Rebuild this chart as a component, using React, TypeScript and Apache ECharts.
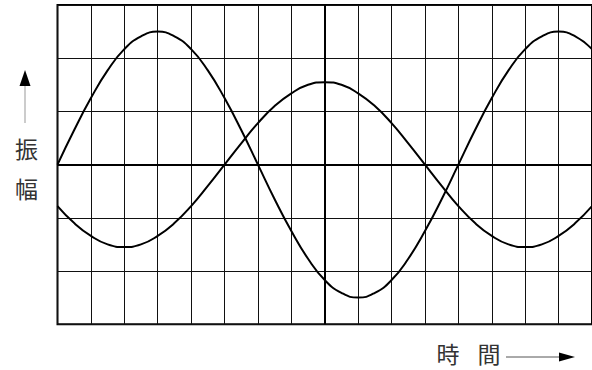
import React, { useEffect, useRef } from "react";
import * as echarts from "echarts";

const xs = [0, 0.5, 1, 1.5, 2, 2.5, 3, 3.5, 4, 4.5, 5, 5.5, 6, 6.5, 7, 7.5, 8, 8.5, 9, 9.5, 10, 10.5, 11, 11.5, 12, 12.5, 13, 13.5, 14, 14.5, 15, 15.5, 16];
const waveA = [0, 0.65, 1.25, 1.77, 2.17, 2.41, 2.5, 2.41, 2.17, 1.77, 1.25, 0.65, 0, -0.65, -1.25, -1.77, -2.17, -2.41, -2.5, -2.41, -2.17, -1.77, -1.25, -0.65, 0, 0.65, 1.25, 1.77, 2.17, 2.41, 2.5, 2.41, 2.17];
const waveB = [-0.78, -1.1, -1.34, -1.5, -1.55, -1.5, -1.34, -1.1, -0.78, -0.4, 0, 0.4, 0.78, 1.1, 1.34, 1.5, 1.55, 1.5, 1.34, 1.1, 0.78, 0.4, 0, -0.4, -0.78, -1.1, -1.34, -1.5, -1.55, -1.5, -1.34, -1.1, -0.78];
const yLabel = ["振", "幅"];
const xLabel = ["時", "間"];

const FONT = '"Noto Sans CJK JP", "Noto Sans CJK SC", sans-serif';

export default function App() {
  const ref = useRef<HTMLDivElement>(null);
  useEffect(() => {
    if (!ref.current) return;
    const chart = echarts.init(ref.current, undefined, { renderer: "svg" });
    const lineStyle = { color: "#000", width: 2 };
    const txt = (s: string, x: number, y: number) => ({
      type: "text",
      x,
      y,
      style: {
        text: s,
        font: `23px ${FONT}`,
        lineHeight: 23,
        fill: "#333",
        align: "center",
        verticalAlign: "middle",
      },
    });
    chart.setOption({
      animation: false,
      backgroundColor: "#fff",
      grid: {
        left: 57.5,
        top: 5,
        width: 538.4,
        height: 319.2,
        show: true,
        borderColor: "#000",
        borderWidth: 2,
        backgroundColor: "transparent",
      },
      xAxis: {
        type: "value",
        min: 0,
        max: 16,
        interval: 1,
        axisLine: { show: false },
        axisTick: { show: false },
        axisLabel: { show: false },
        splitLine: { show: true, lineStyle: { color: "#111", width: 1 } },
      },
      yAxis: {
        type: "value",
        min: -3,
        max: 3,
        interval: 1,
        axisLine: { show: false },
        axisTick: { show: false },
        axisLabel: { show: false },
        splitLine: { show: true, lineStyle: { color: "#111", width: 1 } },
      },
      series: [
        {
          type: "line",
          data: xs.map((x, i) => [x, waveA[i]]),
          smooth: true,
          showSymbol: false,
          lineStyle,
          itemStyle: { color: "#000" },
          markLine: {
            silent: true,
            symbol: "none",
            label: { show: false },
            lineStyle: { color: "#000", width: 2, type: "solid" },
            data: [{ xAxis: 8 }, { yAxis: 0 }],
          },
        },
        {
          type: "line",
          data: xs.map((x, i) => [x, waveB[i]]),
          smooth: true,
          showSymbol: false,
          lineStyle,
          itemStyle: { color: "#000" },
        },
      ],
      graphic: [
        {
          type: "line",
          shape: { x1: 25, y1: 86, x2: 25, y2: 123 },
          style: { stroke: "#999", lineWidth: 1 },
        },
        {
          type: "polygon",
          shape: { points: [[25, 70], [19.5, 86], [30.5, 86]] },
          style: { fill: "#000" },
        },
        txt(yLabel[0], 26.5, 147.5),
        txt(yLabel[1], 26.5, 187.5),
        txt(xLabel[0], 448, 353),
        txt(xLabel[1], 489, 353),
        {
          type: "line",
          shape: { x1: 506, y1: 357, x2: 560, y2: 357 },
          style: { stroke: "#555", lineWidth: 1 },
        },
        {
          type: "polygon",
          shape: { points: [[575, 357], [559, 352.5], [559, 361.5]] },
          style: { fill: "#000" },
        },
      ],
    });
    return () => chart.dispose();
  }, []);
  return (
    <div
      ref={ref}
      style={{ position: "absolute", left: 0, top: 0, width: 592, height: 370 }}
    />
  );
}
